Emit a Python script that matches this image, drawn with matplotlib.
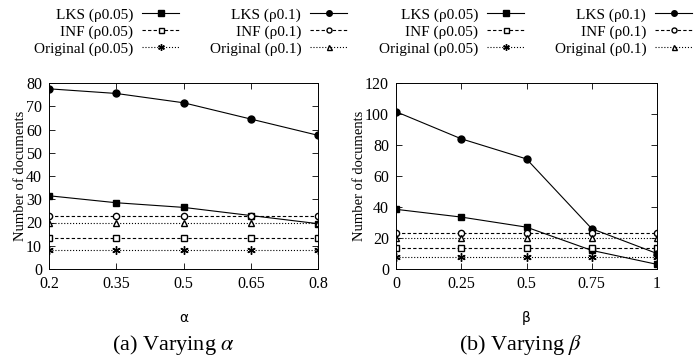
import matplotlib
matplotlib.use("Agg")
import matplotlib.pyplot as plt

plt.rcParams['font.family'] = ['Liberation Serif', 'DejaVu Serif']
plt.rcParams['mathtext.fontset'] = 'stix'

alpha_x = [0.2, 0.35, 0.5, 0.65, 0.8]
alpha_ticks = ['0.2', '0.35', '0.5', '0.65', '0.8']
alpha_lks05 = [31.5, 28.5, 26.5, 23, 19.5]
alpha_lks1 = [77.5, 75.5, 71.5, 64.5, 57.5]
alpha_inf05 = [13.5, 13.5, 13.5, 13.5, 13.5]
alpha_inf1 = [23, 23, 23, 23, 23]
alpha_orig05 = [8, 8, 8, 8, 8]
alpha_orig1 = [20, 20, 20, 20, 20]

beta_x = [0, 0.25, 0.5, 0.75, 1]
beta_ticks = ['0', '0.25', '0.5', '0.75', '1']
beta_lks05 = [38.5, 33.5, 27, 12, 3]
beta_lks1 = [101.5, 84, 71, 26, 10]
beta_inf05 = [13.5, 13.5, 13.5, 13.5, 13.5]
beta_inf1 = [23, 23, 23, 23, 23]
beta_orig05 = [8, 8, 8, 8, 8]
beta_orig1 = [20, 20, 20, 20, 20]

labels = ['LKS (ρ0.05)', 'INF (ρ0.05)', 'Original (ρ0.05)',
          'LKS (ρ0.1)', 'INF (ρ0.1)', 'Original (ρ0.1)']

W, H = 698, 358
fig = plt.figure(figsize=(W / 100, H / 100), dpi=100)

def box(x0, x1, ytop, ybot):
    return [x0 / W, 1 - ybot / H, (x1 - x0) / W, (ybot - ytop) / H]

ax1 = fig.add_axes(box(49, 318, 83, 269))
ax2 = fig.add_axes(box(396, 657, 83, 269))

lw = 0.8
ms = 5

def draw(ax, x, lks05, inf05, orig05, lks1, inf1, orig1):
    hs = []
    hs += ax.plot(x, lks05, '-', color='black', lw=lw, marker='s', ms=ms, mfc='black')
    hs += ax.plot(x, inf05, '--', color='black', lw=lw, marker='s', ms=ms - 0.5, mfc='white', dashes=(3, 2))
    hs += ax.plot(x, orig05, ':', color='black', lw=lw, marker=(6, 2, 0), ms=ms + 1)
    hs += ax.plot(x, lks1, '-', color='black', lw=lw, marker='o', ms=ms, mfc='black')
    hs += ax.plot(x, inf1, '--', color='black', lw=lw, marker='o', ms=ms - 0.5, mfc='white', dashes=(3, 2))
    hs += ax.plot(x, orig1, ':', color='black', lw=lw, marker='^', ms=ms - 0.5, mfc='white')
    return hs

h1 = draw(ax1, alpha_x, alpha_lks05, alpha_inf05, alpha_orig05, alpha_lks1, alpha_inf1, alpha_orig1)
h2 = draw(ax2, beta_x, beta_lks05, beta_inf05, beta_orig05, beta_lks1, beta_inf1, beta_orig1)

ax1.set_xlim(0.2, 0.8)
ax1.set_ylim(0, 80)
ax1.set_xticks(alpha_x)
ax1.set_xticklabels(alpha_ticks)
ax1.set_yticks(range(0, 81, 10))

ax2.set_xlim(0, 1)
ax2.set_ylim(0, 120)
ax2.set_xticks(beta_x)
ax2.set_xticklabels(beta_ticks)
ax2.set_yticks(range(0, 121, 20))

for ax, xl in ((ax1, 'α'), (ax2, 'β')):
    ax.tick_params(direction='in', top=True, right=True, length=4, width=0.6,
                   labelsize=11.5, colors='black', pad=5)
    for s in ax.spines.values():
        s.set_linewidth(0.7)
    ax.set_ylabel('Number of documents', fontsize=10.5, labelpad=-1)
    ax.set_xlabel(xl, fontsize=10, family='DejaVu Sans', labelpad=14)

for ax, hs, right in ((ax1, h1, 347), (ax2, h2, 692)):
    fig.legend(hs, labels, ncol=2, markerfirst=False, frameon=False,
               loc='upper right', bbox_to_anchor=(right / W, 1 - 8 / H),
               fontsize=11, handlelength=2.4, handletextpad=0.6,
               columnspacing=2.0, labelspacing=0.2, borderpad=0,
               borderaxespad=0, markerscale=0.8)

fig.text(173 / W, 1 - 345 / H, r'(a) Varying $\alpha$', ha='center', va='center', fontsize=16)
fig.text(521 / W, 1 - 345 / H, r'(b) Varying $\beta$', ha='center', va='center', fontsize=16)

fig.savefig('out.png', dpi=100)
